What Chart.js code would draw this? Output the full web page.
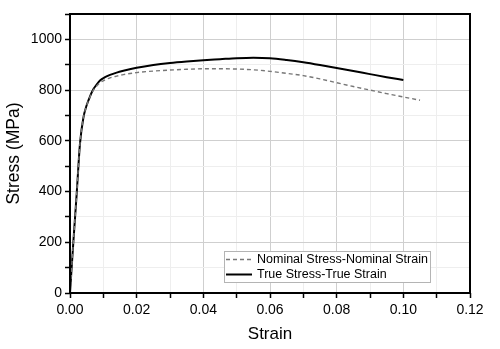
<!DOCTYPE html>
<html>
<head>
<meta charset="utf-8">
<script src="https://cdn.jsdelivr.net/npm/chart.js@4"></script>
<style>
  html, body { margin: 0; padding: 0; background: #fff; }
  #wrap { width: 500px; height: 349px; }
</style>
</head>
<body>
<div id="wrap"><canvas id="chart" width="500" height="349"></canvas></div>
<script>
/* ---------- DATA ---------- */

const trueStrain = [0, 0.001, 0.002, 0.003, 0.004, 0.005, 0.006, 0.007, 0.008, 0.009, 0.0105, 0.012, 0.014, 0.016, 0.02, 0.025, 0.03, 0.035, 0.04, 0.045, 0.05, 0.055, 0.06, 0.065, 0.07, 0.075, 0.08, 0.085, 0.09, 0.095, 0.1];
const trueStress = [0, 200, 390, 590, 690, 740, 775, 803, 822, 838, 851, 860, 869, 876, 888, 899, 907, 913, 918, 922, 926, 928, 926, 919, 910, 899, 887, 875, 863, 851, 840];

const nomStrain = [0, 0.001, 0.002, 0.003, 0.004, 0.005, 0.006, 0.007, 0.008, 0.009, 0.0105, 0.012, 0.014, 0.016, 0.02, 0.025, 0.03, 0.035, 0.04, 0.045, 0.05, 0.055, 0.06, 0.065, 0.07, 0.075, 0.08, 0.085, 0.09, 0.095, 0.1, 0.105];
const nomStress = [0, 200, 390, 590, 690, 739, 773, 800, 816, 829, 840, 848, 855, 861, 869, 875, 879, 882, 884, 884, 883, 880, 874, 866, 857, 844, 829, 814, 800, 786, 773, 760];

const seriesLabels = ["Nominal Stress-Nominal Strain", "True Stress-True Strain"];
const xTickLabels = ["0.00", "0.02", "0.04", "0.06", "0.08", "0.10", "0.12"];
const yTickLabels = ["0", "200", "400", "600", "800", "1000"];

const FONT = "'Liberation Sans', Arial, sans-serif";

/* ---------- HELPERS ---------- */

function toPoints(xs, ys) {
  return xs.map((x, i) => ({ x, y: ys[i] }));
}

function isMajor(v, step) {
  return Math.abs(v / step - Math.round(v / step)) < 1e-6;
}

/* ---------- PLUGINS ---------- */

// thick black frame round the plot area
const frame = {
  id: "frame",
  afterDraw(chart) {
    const { ctx, chartArea: a } = chart;
    ctx.save();
    ctx.strokeStyle = "#000";
    ctx.lineWidth = 2;
    ctx.strokeRect(a.left, a.top, a.right - a.left, a.bottom - a.top);
    ctx.restore();
  }
};

// legend box inside the plot, bottom right
const boxLegend = {
  id: "boxLegend",
  afterDraw(chart) {
    const { ctx } = chart;
    const x = 224, y = 251, w = 206, h = 31;
    ctx.save();
    ctx.fillStyle = "#fff";
    ctx.fillRect(x, y, w, h);
    ctx.strokeStyle = "#b4b4b4";
    ctx.lineWidth = 1;
    ctx.strokeRect(x + 0.5, y + 0.5, w, h);

    chart.data.datasets.forEach((ds, i) => {
      const cy = y + 8.5 + i * 15;
      ctx.beginPath();
      ctx.setLineDash(ds.borderDash || []);
      ctx.strokeStyle = ds.borderColor;
      ctx.lineWidth = ds.borderWidth;
      ctx.moveTo(x + 2, cy);
      ctx.lineTo(x + 28, cy);
      ctx.stroke();
      ctx.setLineDash([]);
      ctx.fillStyle = "#000";
      ctx.font = "12.5px " + FONT;
      ctx.textBaseline = "middle";
      ctx.fillText(ds.label, x + 33, cy + 0.5);
    });
    ctx.restore();
  }
};

/* ---------- CHART ---------- */

new Chart(document.getElementById("chart"), {
  type: "line",
  data: {
    datasets: [
      {
        label: seriesLabels[0],
        data: toPoints(nomStrain, nomStress),
        borderColor: "#777",
        borderWidth: 1.4,
        borderDash: [4, 3],
        cubicInterpolationMode: "monotone",
        pointRadius: 0,
        fill: false
      },
      {
        label: seriesLabels[1],
        data: toPoints(trueStrain, trueStress),
        borderColor: "#000",
        borderWidth: 2,
        cubicInterpolationMode: "monotone",
        pointRadius: 0,
        fill: false
      }
    ]
  },
  options: {
    responsive: false,
    animation: false,
    layout: { padding: { top: 14, right: 30, left: 0, bottom: 0 } },
    plugins: { legend: { display: false }, tooltip: { enabled: false } },
    scales: {
      x: {
        type: "linear",
        min: 0,
        max: 0.12,
        afterFit(s) { s.height = 56; },
        border: { display: false },
        grid: {
          color: c => isMajor(c.tick.value, 0.02) ? "#cfcfcf" : "#eeeeee",
          lineWidth: 1,
          tickColor: "#000",
          tickLength: 5,
          tickWidth: 1.5
        },
        ticks: {
          stepSize: 0.01,
          autoSkip: false,
          maxRotation: 0,
          padding: 4,
          color: "#000",
          font: { family: FONT, size: 14 },
          callback: v => isMajor(v, 0.02) ? xTickLabels[Math.round(v / 0.02)] : ""
        },
        title: {
          display: true,
          text: "Strain",
          color: "#000",
          font: { family: FONT, size: 17 },
          padding: { top: 7 }
        }
      },
      y: {
        min: 0,
        max: 1100,
        afterFit(s) { s.width = 70; },
        border: { display: false },
        grid: {
          color: c => isMajor(c.tick.value, 200) ? "#cfcfcf" : "#eeeeee",
          lineWidth: 1,
          tickColor: "#000",
          tickLength: 5,
          tickWidth: 1.5
        },
        ticks: {
          stepSize: 100,
          autoSkip: false,
          padding: 3,
          color: "#000",
          font: { family: FONT, size: 14 },
          callback: v => isMajor(v, 200) && v <= 1000 ? yTickLabels[Math.round(v / 200)] : ""
        },
        title: {
          display: true,
          text: "Stress (MPa)",
          color: "#000",
          font: { family: FONT, size: 17.5 },
          padding: { top: 4 }
        }
      }
    }
  },
  plugins: [frame, boxLegend]
});
</script>
</body>
</html>
